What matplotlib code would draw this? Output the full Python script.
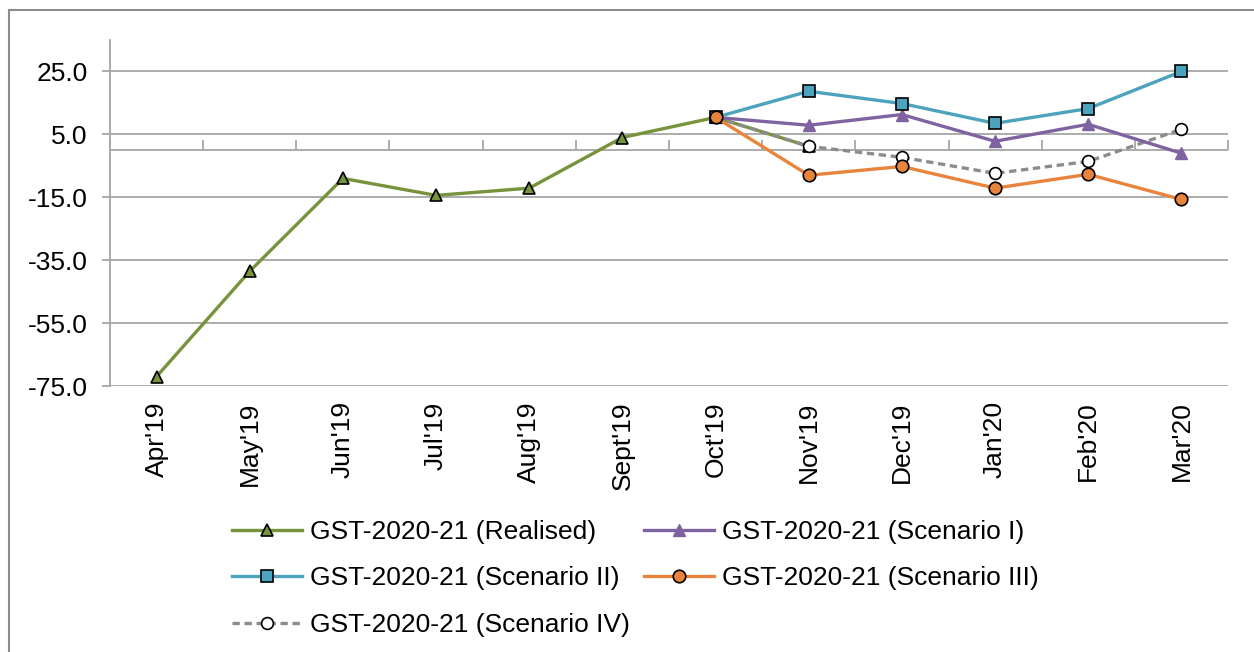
import matplotlib
matplotlib.use("Agg")
import matplotlib.pyplot as plt
import numpy as np

months = ["Apr'19", "May'19", "Jun'19", "Jul'19", "Aug'19", "Sept'19",
          "Oct'19", "Nov'19", "Dec'19", "Jan'20", "Feb'20", "Mar'20"]
nan = np.nan
realised = [-72.0, -38.5, -9.0, -14.4, -12.1, 4.0, 10.4, 1.2, nan, nan, nan, nan]
scen1 = [nan]*6 + [10.4, 7.9, 11.3, 2.8, 8.2, -1.0]
scen2 = [nan]*6 + [10.4, 18.7, 14.8, 8.5, 13.2, 25.0]
scen3 = [nan]*6 + [10.4, -8.0, -5.2, -12.1, -7.7, -15.7]
scen4 = [nan]*6 + [10.4, 1.2, -2.3, -7.4, -3.6, 6.6]
yticks = [-75, -55, -35, -15, 5, 25]

plt.rcParams['font.family'] = ['Liberation Sans', 'DejaVu Sans']
FS = 19

fig = plt.figure(figsize=(12.54, 6.52), dpi=100)
ax = fig.add_axes([110/1254, 1-386/652, (1228-110)/1254, (386-40)/652])

grid_c = '#A6A6A6'
x = np.arange(len(months))

green = '#77933C'; purple = '#7F63A1'; teal = '#4BA3BD'; orange = '#E8843C'; gray = '#8C8C8C'
LW = 2.4

l0, = ax.plot(x, realised, color=green, lw=LW, marker='^', ms=8, mfc=green,
              mec='black', mew=1.2, zorder=3, label='GST-2020-21 (Realised)')
l4, = ax.plot(x, scen4, color=gray, lw=LW, ls=(0, (2.2, 1.4)), marker='o', ms=8.5,
              mfc='white', mec='black', mew=1.2, zorder=4, label='GST-2020-21 (Scenario IV)')
l1, = ax.plot(x, scen1, color=purple, lw=LW, marker='^', ms=9, mfc=purple,
              mec=purple, zorder=5, label='GST-2020-21 (Scenario I)')
l2, = ax.plot(x, scen2, color=teal, lw=LW, marker='s', ms=9, mfc=teal,
              mec='black', mew=1.2, zorder=5, label='GST-2020-21 (Scenario II)')
l3, = ax.plot(x, scen3, color=orange, lw=LW, marker='o', ms=9, mfc=orange,
              mec='black', mew=1.2, zorder=6, label='GST-2020-21 (Scenario III)')

ax.set_xlim(-0.5, len(months) - 0.5)
ax.set_ylim(-75, 35)
ax.set_yticks(yticks)
ax.set_yticklabels([f"{v:.1f}" for v in yticks], fontsize=FS)
ax.set_xticks(x)
ax.set_xticklabels(months, rotation=90, fontsize=FS)
ax.tick_params(axis='x', length=0, pad=11)
ax.tick_params(axis='y', length=6, width=1.3, color=grid_c, pad=10)
ax.grid(axis='y', color=grid_c, lw=1.3, zorder=0)
for s in ['top', 'right', 'bottom']:
    ax.spines[s].set_visible(False)
ax.spines['left'].set_color(grid_c)
ax.spines['left'].set_linewidth(1.3)

# horizontal axis line at zero with tick marks between categories
ax.axhline(0, color=grid_c, lw=1.3, zorder=1)
ymin, ymax = ax.get_ylim()
sec = ax.secondary_xaxis((0 - ymin) / (ymax - ymin))
sec.set_xticks(np.arange(len(months) + 1) - 0.5)
sec.set_xticklabels([])
sec.tick_params(direction='out', length=7, width=1.3, color=grid_c)
for s in sec.spines.values():
    s.set_visible(False)

handles = [l0, l2, l4, l1, l3]
leg = fig.legend(handles=handles, labels=[h.get_label() for h in handles],
                 ncol=2, loc='upper left', bbox_to_anchor=(232/1254, 1-520/652),
                 frameon=False, fontsize=FS, handlelength=2.65, handletextpad=0.3,
                 columnspacing=0.55, labelspacing=0.85, borderaxespad=0, borderpad=0)

# outer chart frame
frame = plt.Rectangle((9/1254, -0.1), 1.2, 1 - 10/652 + 0.1, transform=fig.transFigure,
                      fill=False, edgecolor='#8C8C8C', lw=1.5, clip_on=False)
fig.patches.append(frame)

fig.savefig('out.png', dpi=100)
